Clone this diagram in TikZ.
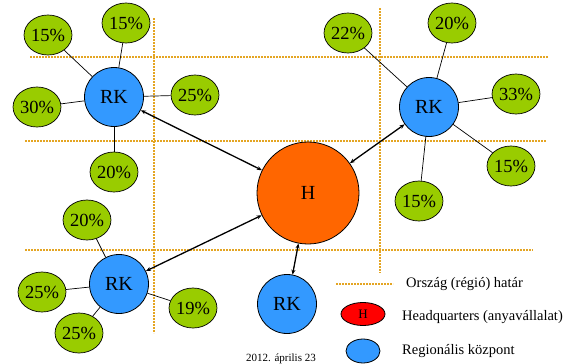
\documentclass[tikz,border=0pt]{standalone}
\usepackage{fontspec}
\setmainfont{Liberation Serif}
\usetikzlibrary{arrows.meta,shapes.geometric}
\definecolor{borderdot}{RGB}{228,165,35}
\definecolor{sharegreen}{RGB}{153,204,0}
\definecolor{rkblue}{RGB}{51,153,255}
\definecolor{hqorange}{RGB}{255,102,0}

\begin{document}
\begin{tikzpicture}[x=1pt,y=-1pt,border/.style={line width=1.6pt, borderdot, dash pattern=on 1.6pt off 1.4pt},share/.style={ellipse, draw, line width=0.7pt, fill=sharegreen, minimum width=44pt, minimum height=40pt, inner sep=0pt, font=\rmfamily\fontsize{18.5}{19}\selectfont},regional/.style={circle, draw, line width=0.8pt, fill=rkblue, minimum size=59pt, inner sep=0pt, font=\rmfamily\fontsize{20}{20}\selectfont},hq/.style={circle, draw, line width=0.8pt, fill=hqorange, minimum size=102pt, inner sep=0pt, font=\rmfamily\fontsize{20}{20}\selectfont},link/.style={draw, line width=0.7pt},flow/.style={line width=1.3pt, {Stealth[length=5pt,width=4pt]}-{Stealth[length=5pt,width=4pt]}},legendtext/.style={anchor=west, inner sep=0pt, font=\rmfamily\fontsize{14.5}{16}\selectfont}]
\useasboundingbox (0,0) rectangle (573,364);
% country borders
\draw[border] (30,57) -- (548,57); \draw[border] (25,141) -- (546,141); \draw[border] (25,250) -- (533,250);
\draw[border] (154,18) -- (154,333); \draw[border] (380,8) -- (380,273);
% headquarters and regional centres
\node[hq] (hq) at (308,193) {H};
\node[regional] (rkA) at (114,97) {RK}; \node[regional] (rkB) at (429,107) {RK};
\node[regional] (rkC) at (119,284) {RK}; \node[regional] (rkD) at (287,304) {RK};
% shares
\node[share] (a1) at (48,35) {15\%}; \node[share] (a2) at (126,23) {15\%}; \node[share] (a3) at (195,95) {25\%};
\node[share] (a4) at (37,107) {30\%}; \node[share] (a5) at (114,172) {20\%};
\node[share] (b1) at (348,33) {22\%}; \node[share] (b2) at (452,23) {20\%}; \node[share] (b3) at (516,94) {33\%};
\node[share] (b4) at (511,166) {15\%}; \node[share] (b5) at (419,201) {15\%};
\node[share] (c1) at (87,220) {20\%}; \node[share] (c2) at (42,292) {25\%}; \node[share] (c3) at (79,333) {25\%};
\node[share] (c4) at (193,308) {19\%};
\foreach \s in {a1,a2,a3,a4,a5} \draw[link] (rkA) -- (\s);
\foreach \s in {b1,b2,b3,b4,b5} \draw[link] (rkB) -- (\s);
\foreach \s in {c1,c2,c3,c4} \draw[link] (rkC) -- (\s);
\foreach \r in {rkA,rkB,rkC,rkD} \draw[flow] (hq) -- (\r);
% legend
\coordinate (lg1) at (336,284); \coordinate (lg2) at (393,284); \draw[border] (lg1) -- (lg2);
\node[legendtext] (lgborder) at (406,284) {Ország (régió) határ};
\node[ellipse, draw, line width=0.8pt, fill=red, minimum width=44pt, minimum height=23pt, inner sep=0pt, font=\rmfamily\fontsize{13}{13}\selectfont] (lghq) at (363,314) {H};
\node[legendtext] (lghqtext) at (402,317) {Headquarters (anyavállalat)};
\node[ellipse, draw, line width=0.8pt, fill=rkblue, minimum width=34pt, minimum height=24pt, inner sep=0pt] (lgrk) at (363,351) {};
\node[legendtext] (lgrktext) at (402,351) {Regionális központ};
\node[font=\rmfamily\fontsize{11}{11}\selectfont, inner sep=0pt] (date) at (281,359) {2012. április 23};
\end{tikzpicture}
\end{document}
